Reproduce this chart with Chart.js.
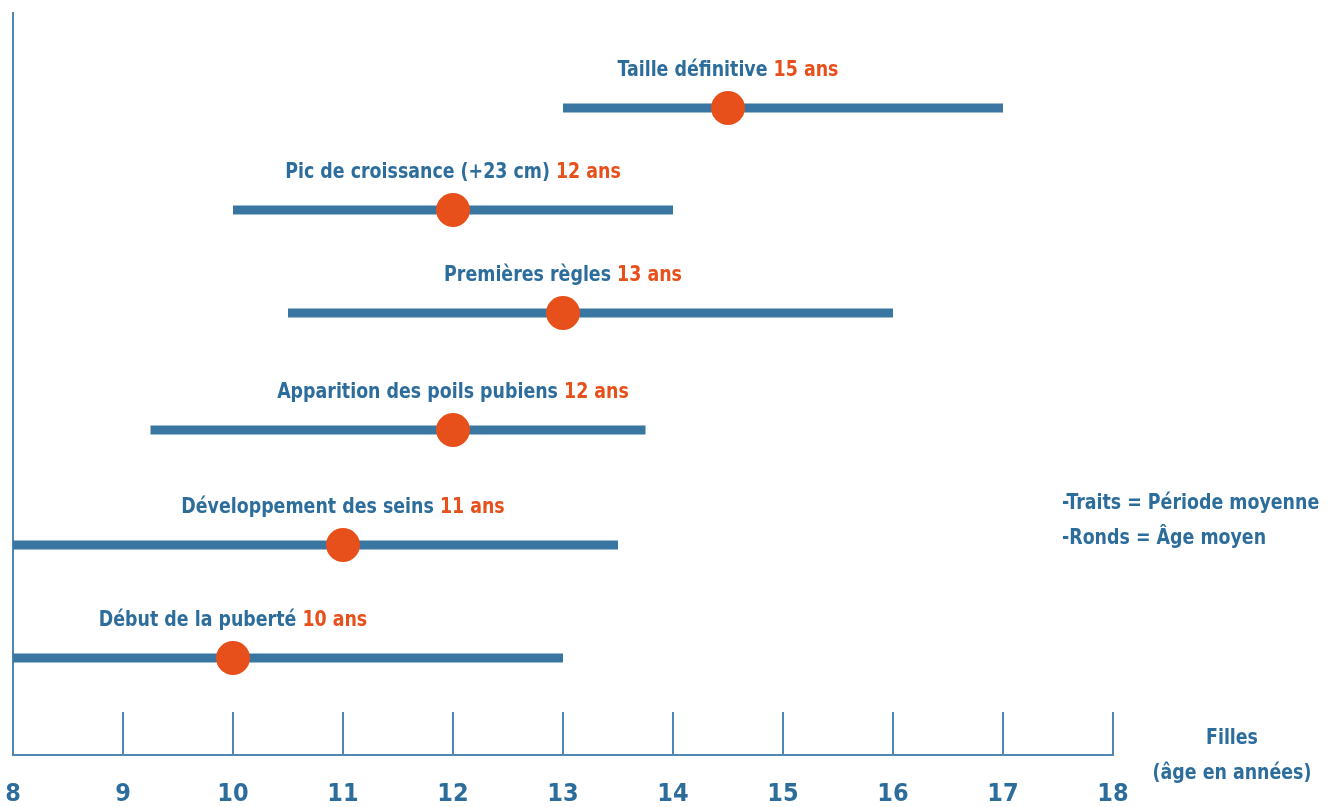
<!DOCTYPE html>
<html>
<head>
<meta charset="utf-8">
<script src="https://cdn.jsdelivr.net/npm/chart.js@4"></script>
<style>
  html, body { margin: 0; padding: 0; background: #fff; }
  canvas { display: block; }
</style>
</head>
<body>
<canvas id="myChart" width="1328" height="807"></canvas>
<script>
// données (âge en années)
const stages = ['Taille définitive', 'Pic de croissance (+23 cm)', 'Premières règles',
	'Apparition des poils pubiens', 'Développement des seins', 'Début de la puberté'];
const ageText = ['15 ans', '12 ans', '13 ans', '12 ans', '11 ans', '10 ans'];
const periodStart = [13, 10, 10.5, 9.25, 8, 8];
const periodEnd = [17, 14, 16, 13.75, 13.5, 13];
const meanAge = [14.5, 12, 13, 12, 11, 10];
const rowLevel = [6.47, 5.45, 4.42, 3.25, 2.10, 0.97];
const xTicks = [8, 9, 10, 11, 12, 13, 14, 15, 16, 17, 18];

const FONT = '"DejaVu Sans Condensed", "Liberation Sans Narrow", sans-serif';
const BLUE = '#3a76a2';
const TEXT_BLUE = '#2d6d9c';
const AXIS = '#4f86b3';
const ORANGE = '#e8501b';
const SQUEEZE = 0.88; // texte plus étroit (police condensée)

// traits = une ligne par étape
const datasets = [];
datasets.push({
	label: 'Âge moyen',
	data: meanAge.map((v, i) => ({ x: v, y: rowLevel[i] })),
	showLine: false,
	pointRadius: 17,
	pointBackgroundColor: ORANGE,
	pointBorderWidth: 0,
	order: 0
});
for (let i = 0; i < stages.length; i++) {
	datasets.push({
		label: stages[i],
		data: [{ x: periodStart[i], y: rowLevel[i] }, { x: periodEnd[i], y: rowLevel[i] }],
		showLine: true,
		borderColor: BLUE,
		borderWidth: 9,
		borderCapStyle: 'butt',
		pointRadius: 0,
		order: 1
	});
}

// texte étroit : on écrase horizontalement
function narrowText(ctx, text, x, y, align) {
	const w = ctx.measureText(text).width * SQUEEZE;
	let left = x;
	if (align === 'center') left = x - w / 2;
	ctx.save();
	ctx.translate(left, y);
	ctx.scale(SQUEEZE, 1);
	ctx.textAlign = 'left';
	ctx.fillText(text, 0, 0);
	ctx.restore();
	return w;
}

// textes au dessus des traits + petites graduations
const textPlugin = {
	id: 'textPlugin',
	afterDraw(chart) {
		const ctx = chart.ctx;
		const xs = chart.scales.x;
		const ys = chart.scales.y;
		const area = chart.chartArea;
		ctx.save();

		// graduations vers le haut
		ctx.strokeStyle = AXIS;
		ctx.lineWidth = 2;
		for (let i = 1; i < xTicks.length; i++) {
			const px = Math.round(xs.getPixelForValue(xTicks[i]));
			ctx.beginPath();
			ctx.moveTo(px, area.bottom - 43);
			ctx.lineTo(px, area.bottom);
			ctx.stroke();
		}

		ctx.font = 'bold 22px ' + FONT;
		ctx.textBaseline = 'middle';
		for (let i = 0; i < stages.length; i++) {
			const cx = xs.getPixelForValue(meanAge[i]);
			const cy = ys.getPixelForValue(rowLevel[i]) - 38;
			const first = stages[i] + ' ';
			const w1 = ctx.measureText(first).width * SQUEEZE;
			const w2 = ctx.measureText(ageText[i]).width * SQUEEZE;
			const x0 = cx - (w1 + w2) / 2;
			ctx.fillStyle = TEXT_BLUE;
			narrowText(ctx, first, x0, cy, 'left');
			ctx.fillStyle = ORANGE;
			narrowText(ctx, ageText[i], x0 + w1, cy, 'left');
		}

		// légende
		ctx.fillStyle = TEXT_BLUE;
		narrowText(ctx, '-Traits = Période moyenne', 1062, 503, 'left');
		narrowText(ctx, '-Ronds = Âge moyen', 1062, 538, 'left');

		// titre de l'axe
		narrowText(ctx, 'Filles', 1232, 738, 'center');
		narrowText(ctx, '(âge en années)', 1232, 773, 'center');
		ctx.restore();
	}
};

new Chart(document.getElementById('myChart'), {
	type: 'scatter',
	data: { datasets: datasets },
	options: {
		responsive: false,
		animation: false,
		layout: { autoPadding: false, padding: { left: 13, right: 215, top: 13, bottom: 0 } },
		plugins: { legend: { display: false }, tooltip: { enabled: false } },
		scales: {
			x: {
				type: 'linear',
				min: 8,
				max: 18,
				afterBuildTicks: (scale) => { scale.ticks = xTicks.map(v => ({ value: v })); },
				afterFit: (scale) => {
					scale.height = 52;
					scale.paddingLeft = 0;
					scale.paddingRight = 0;
				},
				grid: { display: false, drawTicks: false },
				border: { display: true, color: AXIS, width: 2 },
				ticks: {
					padding: 24,
					color: TEXT_BLUE,
					font: { family: FONT, size: 25, weight: 'bold' },
					maxRotation: 0,
					autoSkip: false
				}
			},
			y: {
				type: 'linear',
				min: 0,
				max: 7.42,
				afterFit: (scale) => { scale.width = 0; },
				grid: { display: false, drawTicks: false },
				border: { display: true, color: AXIS, width: 2 },
				ticks: { display: false }
			}
		}
	},
	plugins: [textPlugin]
});
</script>
</body>
</html>
